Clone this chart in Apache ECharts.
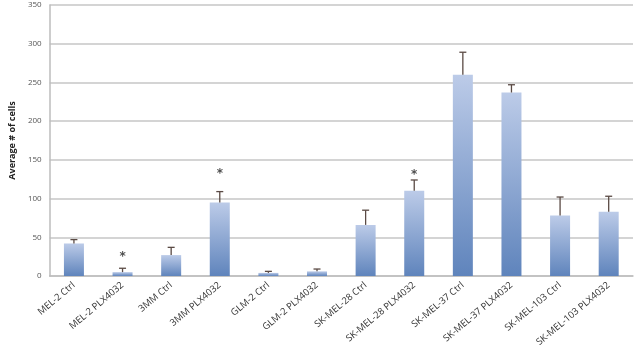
<!DOCTYPE html>
<html><head><meta charset="utf-8">
<script src="https://cdn.jsdelivr.net/npm/echarts@6/dist/echarts.min.js"></script>
<style>html,body{margin:0;padding:0;background:#fff}#c{width:637px;height:351px}</style>
</head><body><div id="c"></div>
<script>
const categories = ["MEL-2 Ctrl","MEL-2 PLX4032","3MM Ctrl","3MM PLX4032","GLM-2 Ctrl","GLM-2 PLX4032","SK-MEL-28 Ctrl","SK-MEL-28 PLX4032","SK-MEL-37 Ctrl","SK-MEL-37 PLX4032","SK-MEL-103 Ctrl","SK-MEL-103 PLX4032"];
const values = [42, 5, 27, 95, 4, 6, 66, 110, 260, 237, 78, 83];
const errorTops = [47, 10, 37, 109, 6, 9, 85, 124, 289, 247, 102, 103];
const starPoints = [[1, 25], [3, 132], [7, 131]];
const yTicks = [0, 50, 100, 150, 200, 250, 300, 350];

const chart = echarts.init(document.getElementById('c'));
const errData = values.map((v, i) => [i, v, errorTops[i]]);
chart.setOption({
  animation: false,
  grid: {left: 38, right: 4, top: 5, bottom: 75},
  xAxis: {
    type: 'category', data: categories,
    axisLine: {lineStyle: {color: '#bdbdbd', width: 1.5}},
    axisTick: {show: false},
    axisLabel: {rotate: 40, fontSize: 9.5, color: '#333', fontFamily: 'Open Sans', interval: 0, margin: 8}
  },
  yAxis: {
    type: 'value', min: 0, max: 350, interval: 50,
    name: 'Average # of cells', nameLocation: 'middle', nameGap: 27,
    nameTextStyle: {fontSize: 9, fontWeight: 'bold', color: '#222', fontFamily: 'Open Sans'},
    axisLine: {show: true, lineStyle: {color: '#bdbdbd', width: 1.5}},
    axisTick: {show: false},
    axisLabel: {fontSize: 8, color: '#555', fontFamily: 'Open Sans', margin: 8,
      formatter: v => yTicks.includes(v) ? String(v) : ''},
    splitLine: {lineStyle: {color: '#c6c6c6', width: 1.5}}
  },
  series: [
    {
      type: 'bar', data: values, barWidth: 20,
      itemStyle: {color: new echarts.graphic.LinearGradient(0, 0, 0, 1, [
        {offset: 0, color: '#bccbe8'}, {offset: 1, color: '#5f84bc'}])}
    },
    {
      type: 'custom', data: errData, z: 5,
      renderItem: function (params, api) {
        const x = api.coord([api.value(0), api.value(1)])[0];
        const yb = api.coord([api.value(0), api.value(1)])[1];
        const yt = api.coord([api.value(0), api.value(2)])[1];
        const st = {stroke: '#5a4a44', lineWidth: 1.3};
        return {type: 'group', children: [
          {type: 'line', shape: {x1: x, y1: yb, x2: x, y2: yt}, style: st},
          {type: 'line', shape: {x1: x - 3.5, y1: yt, x2: x + 3.5, y2: yt}, style: st}
        ]};
      }
    },
    {
      type: 'scatter', data: starPoints, symbolSize: 0, z: 6,
      label: {show: true, formatter: '*', position: 'inside', fontSize: 12, fontWeight: 'bold', color: '#222', fontFamily: 'DejaVu Sans'}
    }
  ]
});
</script></body></html>
